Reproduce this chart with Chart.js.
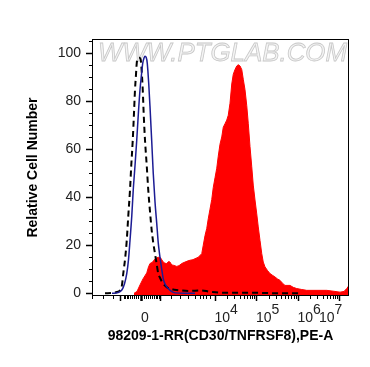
<!DOCTYPE html>
<html>
<head>
<meta charset="utf-8">
<script src="https://cdn.jsdelivr.net/npm/chart.js@4.4.1/dist/chart.umd.min.js"></script>
<style>
  html, body { margin: 0; padding: 0; background: #fff; }
</style>
</head>
<body>
<canvas id="histo" width="370" height="367"></canvas>
<script>
// x = display channel on the biexponential PE-A axis (0..1028), y = relative cell number
const sampleCh = [168, 180, 192, 204, 219, 226, 232, 240, 246, 252, 265, 274, 285, 292, 299, 306, 312, 319, 325, 339,
  348, 359, 372, 384, 392, 404, 412, 425, 439, 445, 452, 459, 465, 472, 479, 485, 492, 499, 505, 512,
  519, 525, 532, 539, 545, 552, 559, 565, 572, 579, 585, 592, 599, 605, 612, 619, 625, 632, 639, 645,
  652, 659, 665, 672, 679, 685, 692, 702, 712, 722, 732, 742, 752, 762, 772, 792, 805, 819, 839, 859,
  892, 939, 972, 992, 1008, 1019, 1028];
const sampleCount = [0, 0.8, 3.5, 6, 8.5, 11, 12.4, 12.8, 13.5, 14.4, 15, 14.8, 13, 12.5, 12.4, 13.2, 13, 11.8, 11.7, 11.2,
  11.5, 12.4, 13, 13.5, 13.75, 14, 14.4, 15, 16.5, 20, 24, 27, 31, 35, 39, 44, 48, 52, 57, 62,
  65, 69, 70.5, 72, 74, 79, 87, 91, 93, 94.5, 95, 94.5, 93, 89, 84.6, 78, 70.7, 61, 52.6, 45,
  38.8, 33, 27.6, 22, 16.5, 13, 11, 9.5, 8.2, 7.5, 6.8, 6, 5.4, 4.2, 3.3, 3.3, 2.5, 2, 1.6, 1.25,
  1.25, 1.25, 0.8, 0.5, 0.8, 2, 3.3];

const isotypeCh = [80, 104, 120, 130, 139, 146, 152, 159, 165, 172, 179, 185, 192, 198, 203, 208, 212, 217, 221, 227,
  232, 239, 245, 252, 259, 265, 272, 279, 285, 294, 305, 318, 332, 372, 412];
const isotypeCount = [0, 0.3, 1.5, 4, 8.2, 14, 22, 32, 43, 53, 63.7, 74, 84.6, 91, 95.7, 97.8, 98.5, 98, 95.7, 87,
  77.6, 63, 49.9, 38, 29, 21, 15, 10, 6, 3.5, 2, 0.8, 0.2, 0, 0];

const blankCh = [52, 85, 100, 112, 120, 125, 132, 139, 145, 152, 157, 163, 168, 172, 176, 179, 185, 190, 195, 199,
  203, 207, 212, 219, 225, 232, 239, 245, 252, 259, 265, 272, 279, 285, 299, 312, 325, 352, 392, 432,
  472, 512, 552, 632, 712, 832];
const blankCount = [0, 0.2, 0.6, 1.3, 3.5, 8.2, 14, 22, 32, 43, 53, 63.7, 75, 84.6, 91, 95.7, 97.8, 97.9, 97, 92,
  84.6, 74, 63.7, 53, 43, 34, 26, 21, 16.5, 12, 8.2, 6.5, 5, 4, 2.6, 1.8, 1.6, 1.25, 1, 1.25,
  0.7, 0.3, 0.2, 0.3, 0.1, 0];

// axis ticks
const xTickValues = [196, 490, 656, 822, 986];
const xTickBase = ['0', '10', '10', '10', '10'];
const xTickExp = ['', '4', '5', '6', '7'];
const xMajorMarks = [112, 196, 272, 490, 656, 822, 986];
const xMinorMarks = [0, 44, 84, 126, 132, 138, 144, 152, 160, 168, 176, 184, 208, 216, 224, 232, 240, 248, 254, 260, 266,
  316, 352, 384, 412, 432, 444, 456, 472,
  540, 569, 590, 606, 619, 630, 640, 648,
  706, 735, 756, 772, 785, 796, 806, 814,
  872, 901, 922, 938, 951, 962, 972, 980];
const yTickValues = [0, 20, 40, 60, 80, 100];
const yMinorMarks = [5, 10, 15, 25, 30, 35, 45, 50, 55, 65, 70, 75, 85, 90, 95, 105];

function toPoints(xs, ys) {
    return xs.map((x, i) => ({ x: x, y: ys[i] }));
}

// labels sit to the right of their tick (FlowJo style); the last one is pulled back inside the frame
function xLabel(i) {
    const base = xTickBase[i], exp = xTickExp[i];
    if (i === xTickBase.length - 1) {
        return [exp, base + '      '];
    }
    return [' '.repeat(base.length * 4 + 2) + exp, ' '.repeat(base.length * 2) + base];
}

const axisDecor = {
    id: 'axisDecor',
    beforeDatasetsDraw(chart) {
        // watermark
        const ctx = chart.ctx;
        ctx.save();
        ctx.font = 'italic 26px "Liberation Sans"';
        ctx.textBaseline = 'alphabetic';
        ctx.fillStyle = '#f4f4f4';
        ctx.strokeStyle = '#c8c8c8';
        ctx.lineWidth = 0.8;
        ctx.fillText('WWW.PTGLAB.COM', 98, 61, 249);
        ctx.strokeText('WWW.PTGLAB.COM', 98, 61, 249);
        ctx.restore();
    },
    afterDraw(chart) {
        const { ctx, chartArea: a, scales: { x, y } } = chart;
        ctx.save();
        ctx.strokeStyle = '#000';
        ctx.lineWidth = 1;
        ctx.strokeRect(a.left + 0.5, a.top + 0.5, a.right - a.left - 1, a.bottom - a.top - 1);

        const xTick = (v, len, w) => {
            const px = Math.round(x.getPixelForValue(v)) + 0.5;
            ctx.lineWidth = w;
            ctx.beginPath();
            ctx.moveTo(px, a.bottom - 1);
            ctx.lineTo(px, a.bottom - 1 + len);
            ctx.stroke();
        };
        xMinorMarks.forEach(v => xTick(v, 4, 1));
        xMajorMarks.forEach(v => xTick(v, 6, v === 196 ? 2.5 : 1.5));

        const yTick = (v, len, w) => {
            const py = Math.round(y.getPixelForValue(v)) + 0.5;
            ctx.lineWidth = w;
            ctx.beginPath();
            ctx.moveTo(a.left, py);
            ctx.lineTo(a.left - len, py);
            ctx.stroke();
        };
        yMinorMarks.forEach(v => yTick(v, 3, 1));
        yTickValues.forEach(v => yTick(v, 6, 1.5));
        ctx.restore();
    }
};

new Chart(document.getElementById('histo'), {
    type: 'line',
    data: {
        datasets: [{
            label: 'Isotype control',
            data: toPoints(isotypeCh, isotypeCount),
            borderColor: '#1c1c94',
            borderWidth: 1.5,
            pointRadius: 0,
            fill: false,
            cubicInterpolationMode: 'monotone',
            order: 1
        }, {
            label: 'Blank',
            data: toPoints(blankCh, blankCount),
            borderColor: '#000',
            borderWidth: 2,
            borderDash: [6, 4],
            pointRadius: 0,
            fill: false,
            cubicInterpolationMode: 'monotone',
            order: 2
        }, {
            label: '98209-1-RR',
            data: toPoints(sampleCh, sampleCount),
            borderColor: '#ff0000',
            backgroundColor: '#ff0000',
            borderWidth: 1,
            pointRadius: 0,
            fill: 'start',
            tension: 0,
            order: 3
        }]
    },
    plugins: [axisDecor],
    options: {
        responsive: false,
        animation: false,
        layout: { padding: { top: 39, right: 21, left: 0, bottom: 0 } },
        plugins: { legend: { display: false }, tooltip: { enabled: false } },
        scales: {
            x: {
                type: 'linear',
                min: 0,
                max: 1028,
                afterBuildTicks: (scale) => { scale.ticks = xTickValues.map(v => ({ value: v })); },
                afterFit: (scale) => { scale.height = 71; },
                border: { display: false },
                grid: { drawOnChartArea: false, tickColor: 'transparent', tickLength: 6 },
                ticks: {
                    autoSkip: false,
                    maxRotation: 0,
                    padding: 4,
                    color: '#222',
                    font: { family: '"Liberation Sans"', size: 14, lineHeight: 0.57 },
                    callback: (value, i) => xLabel(i)
                },
                title: {
                    display: true,
                    text: '98209-1-RR(CD30/TNFRSF8),PE-A',
                    color: '#000',
                    font: { family: '"Liberation Sans"', size: 14, weight: 'bold' },
                    padding: { top: 0, bottom: 22 }
                }
            },
            y: {
                min: -1.1,
                max: 105.7,
                afterBuildTicks: (scale) => { scale.ticks = yTickValues.map(v => ({ value: v })); },
                afterFit: (scale) => { scale.width = 92; },
                border: { display: false },
                grid: { drawOnChartArea: false, tickColor: 'transparent', tickLength: 6 },
                ticks: {
                    padding: 5,
                    color: '#222',
                    font: { family: '"Liberation Sans"', size: 14 }
                },
                title: {
                    display: true,
                    text: 'Relative Cell Number',
                    color: '#000',
                    font: { family: '"Liberation Sans"', size: 14, weight: 'bold' },
                    padding: { top: 25, bottom: 0 }
                }
            }
        }
    }
});
</script>
</body>
</html>
